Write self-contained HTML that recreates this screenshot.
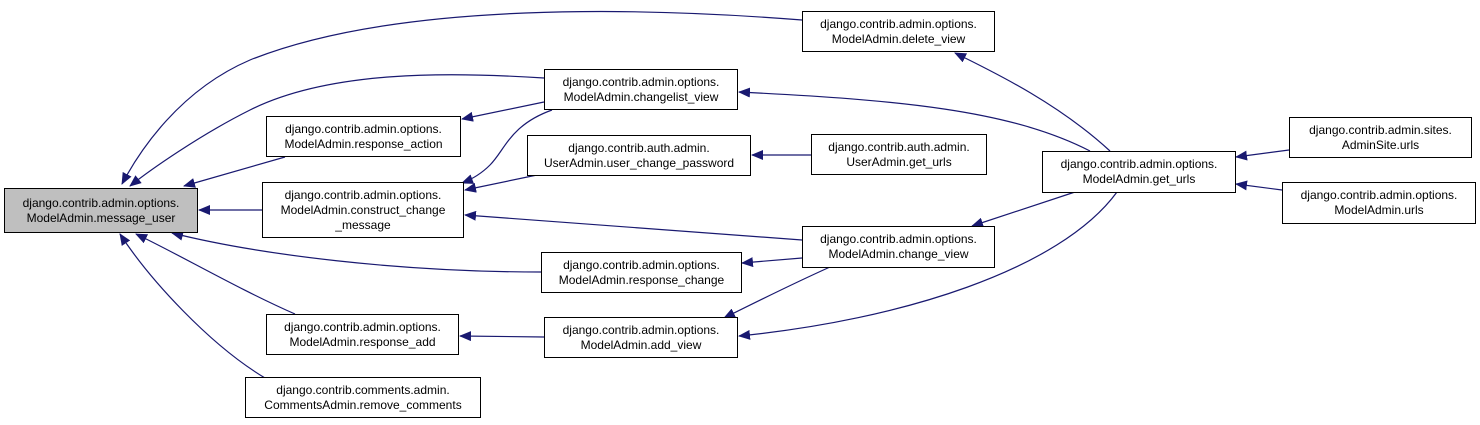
<!DOCTYPE html>
<html><head><meta charset="utf-8"><style>
body{margin:0;background:#fff;width:1480px;height:425px;overflow:hidden;position:relative;font-family:"Liberation Sans",Arial,sans-serif;}
.n{position:absolute;border:1px solid #000;background:#fff;font-size:12px;line-height:15px;text-align:center;box-sizing:border-box;display:flex;align-items:center;justify-content:center;color:#000;}
svg{position:absolute;left:0;top:0;}
</style></head><body>
<svg width="1480" height="425">
<defs><marker id="a" markerWidth="12" markerHeight="10" refX="11" refY="5" orient="auto" markerUnits="userSpaceOnUse"><path d="M0,0 L12,5 L0,10 z" fill="#191970"/></marker></defs>
<g fill="none" stroke="#191970" stroke-width="1.2" marker-end="url(#a)">
<path d="M802,20 C650,8 400,0 250,60 C180,90 140,150 122,184"/>
<path d="M544,78 C450,72 330,70 250,110 C200,135 150,170 130,186"/>
<path d="M285,157 L184,186"/>
<path d="M262,210 L199,210"/>
<path d="M541,272 C400,272 260,255 172,233"/>
<path d="M295,314 C240,290 180,255 136,234"/>
<path d="M265,378 C210,345 150,280 120,234"/>
<path d="M544,102 L462,119"/>
<path d="M552,110 C510,125 505,150 490,165 C480,175 470,180 462,183"/>
<path d="M537,175 L465,190"/>
<path d="M802,240 L465,215"/>
<path d="M811,155 L752,155"/>
<path d="M802,258 L742,263"/>
<path d="M544,337 L460,336"/>
<path d="M1110,151 C1060,105 1000,75 955,53"/>
<path d="M1090,151 C1010,110 900,100 739,92"/>
<path d="M1075,192 L972,226"/>
<path d="M1117,192 C1060,270 900,320 739,336"/>
<path d="M830,267 C790,285 760,300 724,318"/>
<path d="M1289,150 L1236,157"/>
<path d="M1282,190 L1236,184"/>
</g></svg>
<div class="n" style="left:4px;top:188px;width:194px;height:45px;background:#bfbfbf">django.contrib.admin.options.<br>ModelAdmin.message_user</div>
<div class="n" style="left:266px;top:116px;width:195px;height:41px">django.contrib.admin.options.<br>ModelAdmin.response_action</div>
<div class="n" style="left:262px;top:182px;width:202px;height:56px">django.contrib.admin.options.<br>ModelAdmin.construct_change<br>_message</div>
<div class="n" style="left:544px;top:69px;width:194px;height:41px">django.contrib.admin.options.<br>ModelAdmin.changelist_view</div>
<div class="n" style="left:527px;top:135px;width:224px;height:41px">django.contrib.auth.admin.<br>UserAdmin.user_change_password</div>
<div class="n" style="left:541px;top:252px;width:201px;height:41px">django.contrib.admin.options.<br>ModelAdmin.response_change</div>
<div class="n" style="left:266px;top:314px;width:193px;height:41px">django.contrib.admin.options.<br>ModelAdmin.response_add</div>
<div class="n" style="left:544px;top:317px;width:194px;height:41px">django.contrib.admin.options.<br>ModelAdmin.add_view</div>
<div class="n" style="left:245px;top:377px;width:236px;height:41px">django.contrib.comments.admin.<br>CommentsAdmin.remove_comments</div>
<div class="n" style="left:802px;top:11px;width:193px;height:41px">django.contrib.admin.options.<br>ModelAdmin.delete_view</div>
<div class="n" style="left:811px;top:134px;width:176px;height:41px">django.contrib.auth.admin.<br>UserAdmin.get_urls</div>
<div class="n" style="left:802px;top:226px;width:193px;height:42px">django.contrib.admin.options.<br>ModelAdmin.change_view</div>
<div class="n" style="left:1042px;top:151px;width:194px;height:42px">django.contrib.admin.options.<br>ModelAdmin.get_urls</div>
<div class="n" style="left:1289px;top:117px;width:183px;height:41px">django.contrib.admin.sites.<br>AdminSite.urls</div>
<div class="n" style="left:1282px;top:182px;width:194px;height:42px">django.contrib.admin.options.<br>ModelAdmin.urls</div>
</body></html>
